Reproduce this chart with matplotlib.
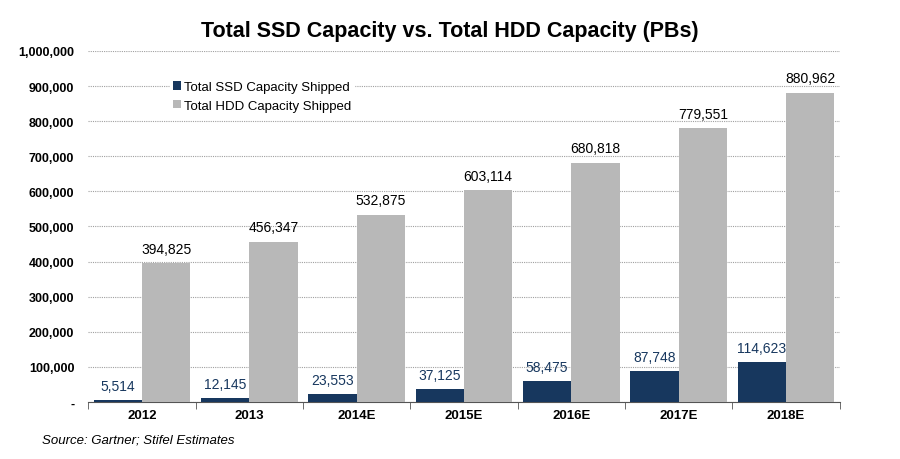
import numpy as np
import matplotlib
matplotlib.use("Agg")
import matplotlib.pyplot as plt
from matplotlib.ticker import FuncFormatter, FixedLocator

plt.rcParams["font.family"] = ["Liberation Sans", "DejaVu Sans"]

years = ["2012", "2013", "2014E", "2015E", "2016E", "2017E", "2018E"]
ssd = [5514, 12145, 23553, 37125, 58475, 87748, 114623]
hdd = [394825, 456347, 532875, 603114, 680818, 779551, 880962]

SSD_C = "#17375E"
HDD_C = "#B8B8B8"

fig = plt.figure(figsize=(9, 4.6), dpi=100)
ax = fig.add_axes([0.098, 0.124, 0.835, 0.763])

x = np.arange(len(years))
w = 0.45
b1 = ax.bar(x - w/2, ssd, w, color=SSD_C, label="Total SSD Capacity Shipped", zorder=3)
b2 = ax.bar(x + w/2, hdd, w, color=HDD_C, label="Total HDD Capacity Shipped", zorder=3)

# value labels
for bar, v in zip(b1, ssd):
    ax.text(bar.get_x() + bar.get_width()/2, v + 20000, f"{v:,}",
            ha="center", va="bottom", fontsize=10, color=SSD_C)
for bar, v in zip(b2, hdd):
    ax.text(bar.get_x() + bar.get_width()/2, v + 22000, f"{v:,}",
            ha="center", va="bottom", fontsize=10, color="black")

ax.set_xlim(-0.5, len(years) - 0.5)
ax.set_ylim(0, 1000000)
ax.set_yticks(np.arange(0, 1000001, 100000))
ax.yaxis.set_major_formatter(FuncFormatter(lambda v, p: "-" if v == 0 else f"{int(v):,}"))
ax.set_xticks(x)
ax.set_xticklabels(years, fontweight="bold", fontsize=9.5)
ax.xaxis.set_minor_locator(FixedLocator(np.arange(-0.5, len(years), 1)))
ax.tick_params(axis="x", which="major", length=0, pad=5)
ax.tick_params(axis="x", which="minor", length=5, direction="out", color="#555555")
ax.tick_params(axis="y", length=0, pad=10, labelsize=9)
for lab in ax.get_yticklabels():
    lab.set_fontweight("bold")

for s in ["top", "right", "left"]:
    ax.spines[s].set_visible(False)
ax.spines["bottom"].set_color("#555555")
ax.grid(axis="y", linestyle=(0, (1, 1)), color="#A0A0A0", linewidth=0.8, zorder=0)
ax.set_axisbelow(True)

leg = ax.legend(loc="upper left", bbox_to_anchor=(0.1, 0.94), frameon=True,
                fontsize=9.5, handlelength=0.6, handleheight=0.6,
                handletextpad=0.3, borderpad=0.2, labelspacing=0.5)
leg.get_frame().set_edgecolor("white")
leg.get_frame().set_facecolor("white")
leg.get_frame().set_alpha(1)

fig.suptitle("Total SSD Capacity vs. Total HDD Capacity (PBs)", x=0.5, y=0.955,
             fontsize=15.5, fontweight="bold")
fig.text(0.047, 0.035, "Source: Gartner; Stifel Estimates", fontsize=9.5, style="italic")

fig.savefig("out.png", dpi=100)
